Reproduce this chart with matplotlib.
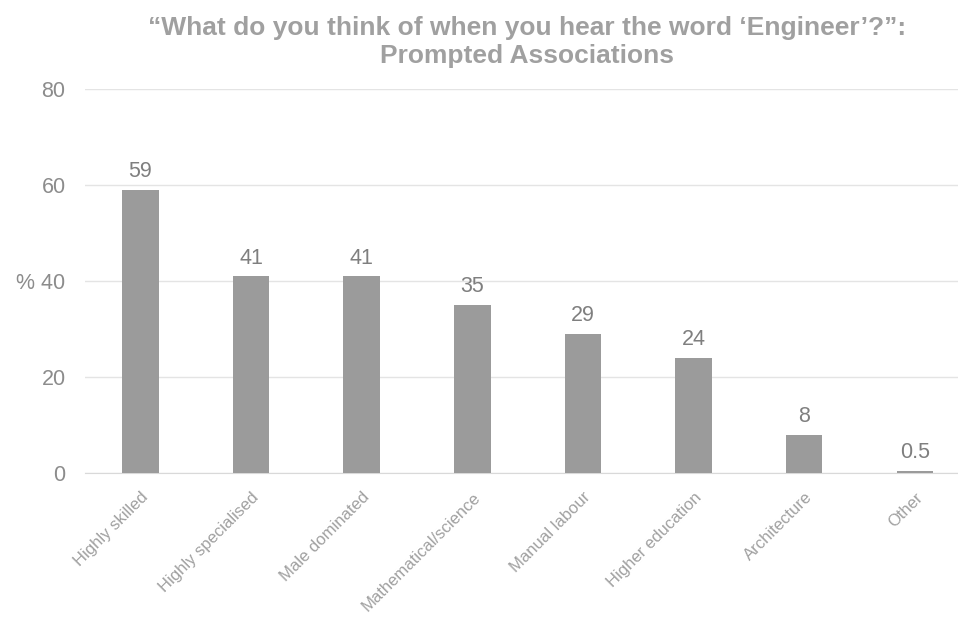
import matplotlib.pyplot as plt
import numpy as np

plt.rcParams['font.family'] = ['Liberation Sans', 'DejaVu Sans']

categories = ["Highly skilled", "Highly specialised", "Male dominated", "Mathematical/science",
              "Manual labour", "Higher education", "Architecture", "Other"]
values = [59, 41, 41, 35, 29, 24, 8, 0.5]
value_labels = ["59", "41", "41", "35", "29", "24", "8", "0.5"]
y_ticks = [0, 20, 40, 60, 80]
y_tick_labels = ["0", "20", "% 40", "60", "80"]

text_grey = "#8c8c8c"
bar_grey = "#9b9b9b"

fig = plt.figure(figsize=(9.58, 6.21), dpi=100)
ax = fig.add_axes([85 / 958, 148 / 621, 873 / 958, 384 / 621])

x = np.arange(len(categories))
bars = ax.bar(x, values, width=0.33, color=bar_grey, zorder=3)

for xi, v, lab in zip(x, values, value_labels):
    ax.text(xi, v + 1.6, lab, ha="center", va="bottom", fontsize=15.5, color="#7f7f7f")

ax.set_ylim(0, 80)
ax.set_xlim(-0.5, 7.39)
ax.set_yticks(y_ticks)
ax.set_yticklabels(y_tick_labels, fontsize=15.5, color=text_grey)
ax.yaxis.grid(True, color="#e4e4e4", linewidth=1, zorder=0)
ax.tick_params(axis="y", length=0, pad=14)
ax.tick_params(axis="x", length=0, pad=12)
ax.set_xticks(x)
ax.set_xticklabels(categories, rotation=45, ha="right", rotation_mode="anchor",
                   fontsize=12, color="#a0a0a0")
for s in ["top", "right", "left"]:
    ax.spines[s].set_visible(False)
ax.spines["bottom"].set_color("#d9d9d9")

fig.text(0.550, 0.974, "\u201cWhat do you think of when you hear the word \u2018Engineer\u2019?\u201d:\nPrompted Associations",
         ha="center", va="top", fontsize=19, fontweight="bold", color="#a0a0a0", linespacing=1.2)

fig.savefig("out.png", dpi=100)
